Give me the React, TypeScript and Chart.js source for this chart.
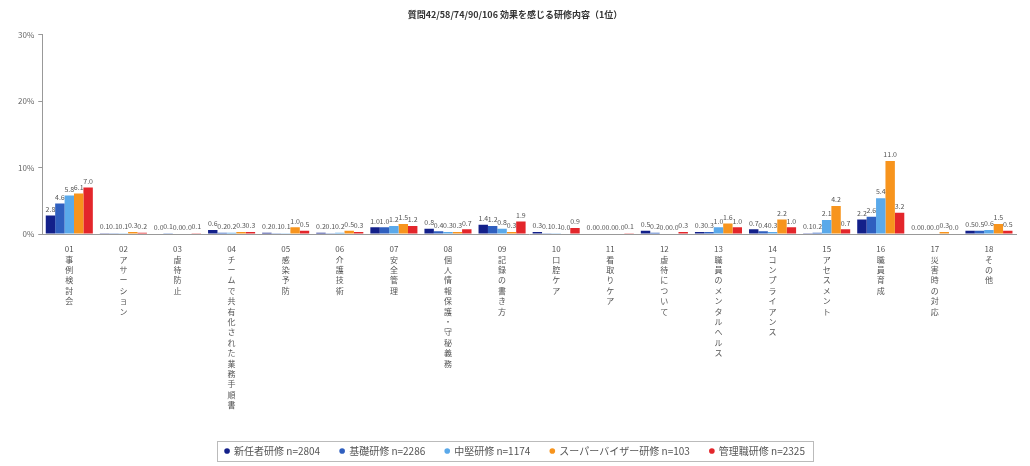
import React, { useEffect, useRef } from "react";
import { Chart, registerables } from "chart.js";

Chart.register(...registerables);

const TITLE = "質問42/58/74/90/106 効果を感じる研修内容（1位）";

const categories: string[] = [
  "01 事例検討会",
  "02 アサーション",
  "03 虐待防止",
  "04 チームで共有化された業務手順書",
  "05 感染予防",
  "06 介護技術",
  "07 安全管理",
  "08 個人情報保護・守秘義務",
  "09 記録の書き方",
  "10 口腔ケア",
  "11 看取りケア",
  "12 虐待について",
  "13 職員のメンタルヘルス",
  "14 コンプライアンス",
  "15 アセスメント",
  "16 職員育成",
  "17 災害時の対応",
  "18 その他",
];

const seriesNames: string[] = [
  "新任者研修 n=2804",
  "基礎研修 n=2286",
  "中堅研修 n=1174",
  "スーパーバイザー研修 n=103",
  "管理職研修 n=2325",
];

const s1: number[] = [2.8, 0.1, 0.0, 0.6, 0.2, 0.2, 1.0, 0.8, 1.4, 0.3, 0.0, 0.5, 0.3, 0.7, 0.1, 2.2, 0.0, 0.5];
const s2: number[] = [4.6, 0.1, 0.1, 0.2, 0.1, 0.1, 1.0, 0.4, 1.2, 0.1, 0.0, 0.2, 0.3, 0.4, 0.2, 2.6, 0.0, 0.5];
const s3: number[] = [5.8, 0.1, 0.0, 0.2, 0.1, 0.2, 1.2, 0.3, 0.8, 0.1, 0.0, 0.0, 1.0, 0.3, 2.1, 5.4, 0.0, 0.6];
const s4: number[] = [6.1, 0.3, 0.0, 0.3, 1.0, 0.5, 1.5, 0.3, 0.3, 0.0, 0.0, 0.0, 1.6, 2.2, 4.2, 11.0, 0.3, 1.5];
const s5: number[] = [7.0, 0.2, 0.1, 0.3, 0.5, 0.3, 1.2, 0.7, 1.9, 0.9, 0.1, 0.3, 1.0, 1.0, 0.7, 3.2, 0.0, 0.5];

const colors: string[] = ["#13208a", "#2f5fbf", "#5aa9ea", "#f7941d", "#e3262b"];

const yTicks: number[] = [0, 10, 20, 30];

const FONT = "'Noto Sans CJK JP', 'Noto Sans', sans-serif";

function splitVertical(label: string): string[] {
  const idx = label.indexOf(" ");
  const num = label.slice(0, idx);
  const rest = Array.from(label.slice(idx + 1));
  return [num, ...rest];
}

const dataLabelPlugin = {
  id: "dataLabels",
  afterDatasetsDraw(chart: any) {
    const ctx = chart.ctx;
    ctx.save();
    ctx.font = `7px ${FONT}`;
    ctx.fillStyle = "#555";
    ctx.textAlign = "center";
    ctx.textBaseline = "bottom";
    chart.data.datasets.forEach((ds: any, i: number) => {
      const meta = chart.getDatasetMeta(i);
      meta.data.forEach((el: any, j: number) => {
        const v = ds.data[j] as number;
        ctx.fillText(v.toFixed(1), el.x, el.y - 3);
      });
    });
    ctx.restore();
  },
};

const legendBoxPlugin = {
  id: "legendBox",
  afterDraw(chart: any) {
    const lg = chart.legend;
    if (!lg || !lg.legendHitBoxes || !lg.legendHitBoxes.length) return;
    const boxes = lg.legendHitBoxes;
    let l = Infinity, r = -Infinity, t = Infinity, b = -Infinity;
    boxes.forEach((h: any) => {
      l = Math.min(l, h.left);
      r = Math.max(r, h.left + h.width);
      t = Math.min(t, h.top);
      b = Math.max(b, h.top + h.height);
    });
    const ctx = chart.ctx;
    ctx.save();
    ctx.strokeStyle = "#bbb";
    ctx.lineWidth = 1;
    ctx.strokeRect(Math.round(l - 8) + 0.5, Math.round(t - 5) + 0.5, Math.round(r - l + 16), Math.round(b - t + 10));
    ctx.restore();
  },
};

export default function App() {
  const ref = useRef<HTMLCanvasElement | null>(null);

  useEffect(() => {
    if (!ref.current) return;
    const data = [s1, s2, s3, s4, s5];
    const chart = new Chart(ref.current, {
      type: "bar",
      data: {
        labels: categories,
        datasets: seriesNames.map((name, i) => ({
          label: name,
          data: data[i],
          backgroundColor: colors[i],
          borderWidth: 0,
          categoryPercentage: 0.87,
          barPercentage: 1.0,
        })),
      },
      options: {
        responsive: false,
        animation: false,
        layout: { padding: { left: 14, right: 14, top: 0, bottom: 0 } },
        plugins: {
          title: {
            display: true,
            text: TITLE,
            color: "#333",
            font: { family: FONT, size: 9, weight: "bold" },
            padding: { top: 9, bottom: 15 },
          },
          legend: {
            display: true,
            position: "bottom",
            labels: {
              usePointStyle: true,
              pointStyle: "circle",
              boxWidth: 4,
              boxHeight: 4,
              padding: 20,
              color: "#555",
              font: { family: FONT, size: 10 },
            },
          },
          tooltip: { enabled: false },
        },
        scales: {
          x: {
            grid: { display: false },
            border: { display: true, color: "#999" },
            ticks: {
              autoSkip: false,
              maxRotation: 0,
              minRotation: 0,
              color: "#555",
              font: { family: FONT, size: 8, lineHeight: 1.3 },
              padding: 2,
              callback: (_v: any, i: number) => splitVertical(categories[i]),
            },
            afterFit: (scale: any) => {
              scale.height = 192;
            },
          },
          y: {
            min: 0,
            max: 30,
            afterBuildTicks: (scale: any) => {
              scale.ticks = yTicks.map((v) => ({ value: v }));
            },
            grid: { drawOnChartArea: false, drawTicks: true, tickLength: 4, color: "#999" },
            border: { display: true, color: "#999" },
            ticks: {
              color: "#666",
              font: { family: FONT, size: 8 },
              padding: 4,
              callback: (v: any) => `${v}%`,
            },
          },
        },
      },
      plugins: [dataLabelPlugin, legendBoxPlugin],
    });
    return () => chart.destroy();
  }, []);

  return (
    <div style={{ position: "fixed", left: 0, top: 0, width: 1030, height: 466, background: "#fff" }}>
      <canvas ref={ref} width={1030} height={466} />
    </div>
  );
}
